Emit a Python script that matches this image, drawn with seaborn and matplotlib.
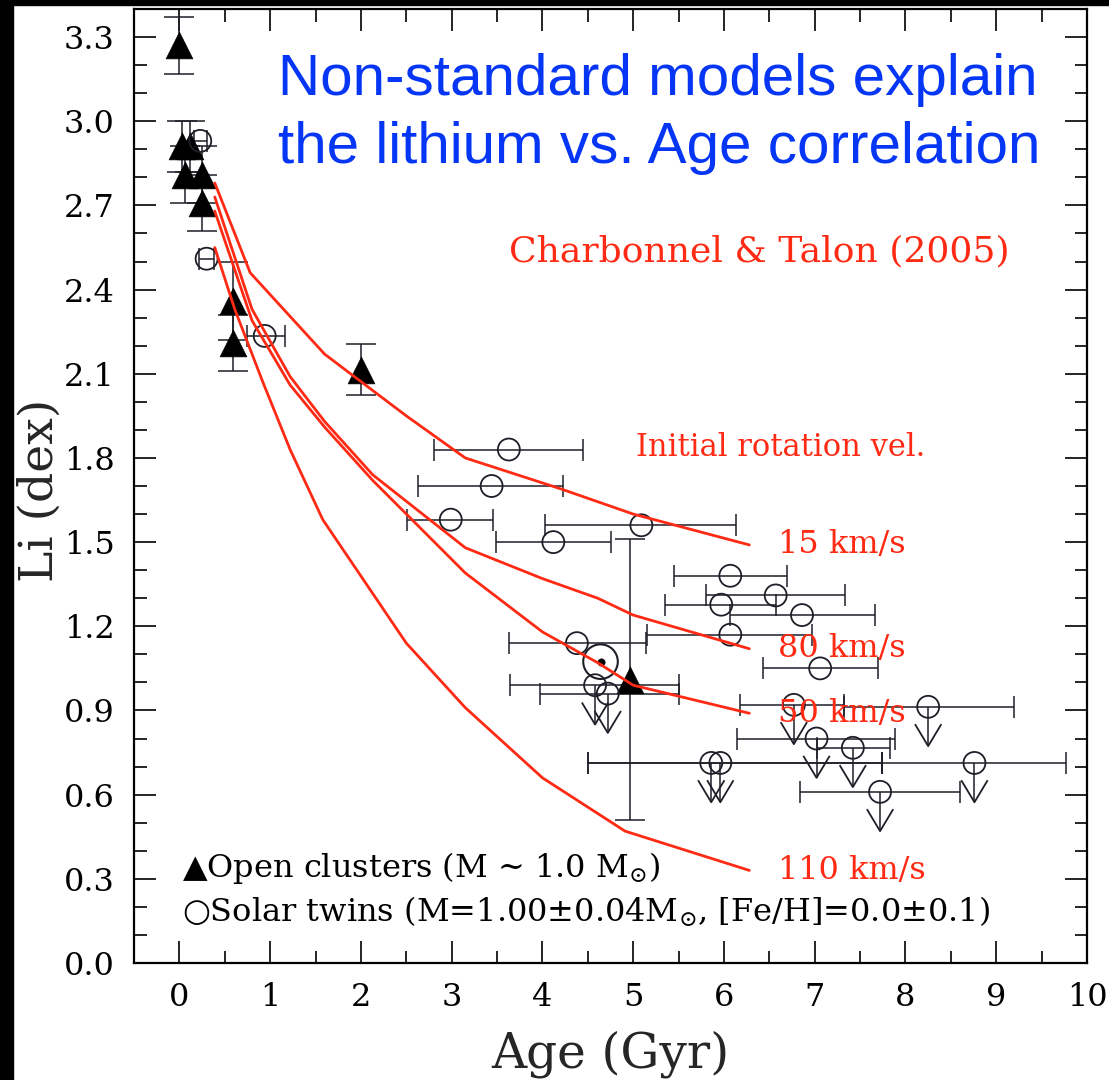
import numpy as np
import pandas as pd
import matplotlib
matplotlib.use("Agg")
import matplotlib.pyplot as plt
from matplotlib.patches import Rectangle
from matplotlib.ticker import MultipleLocator
import seaborn as sns

# ---------------- data ----------------
# Open clusters (filled triangles) with vertical error bars
oc_age = [0.00, 0.03, 0.12, 0.06, 0.25, 0.25, 0.59, 0.59, 2.00, 4.97]
oc_li = [3.27, 2.91, 2.91, 2.81, 2.81, 2.71, 2.36, 2.21, 2.115, 1.01]
oc_li_err = [0.10, 0.09, 0.09, 0.10, 0.10, 0.10, 0.14, 0.10, 0.09, 0.50]

# Solar twins, detections (open circles) with horizontal age ranges
tw_age = [0.23, 0.30, 0.94, 3.63, 3.44, 2.99, 4.12, 5.09, 6.07, 6.57, 5.97, 6.86, 6.07, 7.06, 4.38]
tw_li = [2.93, 2.51, 2.235, 1.83, 1.70, 1.58, 1.50, 1.56, 1.38, 1.31, 1.277, 1.24, 1.17, 1.05, 1.14]
tw_age_lo = [0.16, 0.22, 0.74, 2.80, 2.63, 2.51, 3.49, 4.03, 5.45, 5.80, 5.35, 6.07, 5.15, 6.43, 3.63]
tw_age_hi = [0.30, 0.38, 1.16, 4.45, 4.23, 3.46, 4.76, 6.13, 6.70, 7.33, 6.57, 7.66, 6.97, 7.70, 5.14]

# Solar twins, upper limits (open circles with downward arrows)
ul_age = [4.58, 4.72, 5.86, 5.96, 6.77, 8.25, 7.02, 7.42, 7.72, 8.76]
ul_li = [0.99, 0.96, 0.713, 0.713, 0.92, 0.913, 0.80, 0.767, 0.61, 0.713]
ul_age_lo = [3.64, 3.97, 4.50, 4.50, 6.18, 7.32, 6.14, 7.02, 6.84, 7.74]
ul_age_hi = [5.51, 5.51, 7.74, 7.74, 7.32, 9.20, 7.89, 7.83, 8.60, 9.77]

# The Sun
sun_age = [4.64]
sun_li = [1.074]

# Charbonnel & Talon (2005) models, by initial rotation velocity
model_names = ["15 km/s", "80 km/s", "50 km/s", "110 km/s"]
m15_age = [0.39, 0.78, 1.60, 2.50, 3.15, 4.20, 5.00, 6.28]
m15_li = [2.78, 2.46, 2.17, 1.95, 1.80, 1.69, 1.60, 1.49]
m80_age = [0.39, 0.80, 1.22, 1.60, 2.13, 3.15, 4.00, 4.61, 5.00, 6.28]
m80_li = [2.73, 2.33, 2.09, 1.93, 1.74, 1.48, 1.37, 1.30, 1.24, 1.12]
m50_age = [0.39, 0.80, 1.22, 1.60, 2.13, 3.15, 4.00, 4.61, 5.00, 6.28]
m50_li = [2.68, 2.29, 2.06, 1.91, 1.72, 1.39, 1.18, 1.07, 0.99, 0.89]
m110_age = [0.39, 0.61, 0.92, 1.22, 1.58, 2.50, 3.15, 4.00, 4.91, 6.28]
m110_li = [2.55, 2.33, 2.07, 1.83, 1.58, 1.14, 0.91, 0.66, 0.47, 0.33]

x_ticks = [0, 1, 2, 3, 4, 5, 6, 7, 8, 9, 10]
y_ticks = [0.0, 0.3, 0.6, 0.9, 1.2, 1.5, 1.8, 2.1, 2.4, 2.7, 3.0, 3.3]

# ---------------- style ----------------
sns.set_theme(style="ticks")
SERIF = ["DejaVu Serif", "DejaVu Sans"]
plt.rcParams["font.family"] = SERIF
plt.rcParams["mathtext.fontset"] = "dejavuserif"

RED = "#ff2a14"
BLUE = "#0536f5"
INK = "#1e1e28"

fig = plt.figure(figsize=(11.09, 10.80), dpi=100)
fig.patch.set_facecolor("white")
ax = fig.add_axes([134 / 1109, 1 - 963 / 1080, (1087 - 134) / 1109, (963 - 9) / 1080])
ax.set_facecolor("white")

# black frame bands of the screenshot (left and top)
fig.add_artist(Rectangle((0, 0), 13 / 1109, 1, transform=fig.transFigure,
                         color="black", zorder=-5))
fig.add_artist(Rectangle((0, 1 - 5 / 1080), 1, 5 / 1080, transform=fig.transFigure,
                         color="black", zorder=-5))

# ---------------- error bars ----------------
ax.errorbar(oc_age, oc_li, yerr=oc_li_err, fmt="none", ecolor=INK,
            elinewidth=1.1, capsize=11, capthick=1.1, zorder=2)

tw_xerr = [np.subtract(tw_age, tw_age_lo), np.subtract(tw_age_hi, tw_age)]
ax.errorbar(tw_age, tw_li, xerr=tw_xerr, fmt="none", ecolor=INK,
            elinewidth=1.1, capsize=8, capthick=1.1, zorder=2)

ul_xerr = [np.subtract(ul_age, ul_age_lo), np.subtract(ul_age_hi, ul_age)]
ax.errorbar(ul_age, ul_li, xerr=ul_xerr, fmt="none", ecolor=INK,
            elinewidth=1.1, capsize=8, capthick=1.1, zorder=2)

# upper-limit arrows
arrow_len = 0.14
ul_tip = np.subtract(ul_li, arrow_len)
ax.vlines(ul_age, ul_tip, ul_li, color=INK, lw=1.1, zorder=3)
v_marker = [(-0.6, 1.0), (0.0, 0.0), (0.6, 1.0)]
ax.scatter(ul_age, ul_tip, marker=v_marker, s=1000, facecolors="none",
           edgecolors=INK, linewidths=1.3, zorder=3)

# ---------------- markers ----------------
oc_df = pd.DataFrame({"age": oc_age, "li": oc_li})
sns.scatterplot(data=oc_df, x="age", y="li", marker="^", s=370, color="black",
                edgecolor="black", linewidth=0.5, ax=ax, zorder=4, legend=False)

tw_df = pd.DataFrame({"age": tw_age + ul_age, "li": tw_li + ul_li})
sns.scatterplot(data=tw_df, x="age", y="li", marker="o", s=250, facecolors="none",
                edgecolor=INK, linewidth=1.3, ax=ax, zorder=4, legend=False)

sun_df = pd.DataFrame({"age": sun_age, "li": sun_li})
sns.scatterplot(data=sun_df, x="age", y="li", marker="o", s=620, facecolors="none",
                edgecolor=INK, linewidth=1.5, ax=ax, zorder=4, legend=False)
sns.scatterplot(data=sun_df, x="age", y="li", marker="o", s=28, color="black",
                edgecolor="black", ax=ax, zorder=4, legend=False)

# ---------------- model curves ----------------
models = pd.concat([
    pd.DataFrame({"age": m15_age, "li": m15_li, "model": model_names[0]}),
    pd.DataFrame({"age": m80_age, "li": m80_li, "model": model_names[1]}),
    pd.DataFrame({"age": m50_age, "li": m50_li, "model": model_names[2]}),
    pd.DataFrame({"age": m110_age, "li": m110_li, "model": model_names[3]}),
], ignore_index=True)
sns.lineplot(data=models, x="age", y="li", hue="model", units="model",
             estimator=None, sort=False, palette={n: RED for n in model_names},
             linewidth=2.0, legend=False, ax=ax, zorder=6)

# model labels
for name, ly in zip(model_names, [m15_li[-1], m80_li[-1], m50_li[-1], m110_li[-1]]):
    ax.text(6.59, ly, name, color=RED, fontsize=23, ha="left", va="center", zorder=7)
ax.text(6.62, 1.837, "Initial rotation vel.", color=RED, fontsize=22,
        ha="center", va="center")
ax.text(6.39, 2.536, "Charbonnel & Talon (2005)", color=RED, fontsize=26,
        ha="center", va="center")

# legend-like annotation
ax.text(0.03, 0.339, "\u25b2Open clusters (M ~ 1.0 M$_{\\odot}$)", fontsize=23,
        color="black", ha="left", va="center", family=SERIF)
ax.text(0.03, 0.182, "\u25cbSolar twins (M=1.00\u00b10.04M$_{\\odot}$, [Fe/H]=0.0\u00b10.1)",
        fontsize=23, color="black", ha="left", va="center", family=SERIF)

# title text in blue
fig.text(278 / 1109, 1 - 95 / 1080, "Non-standard models explain", color=BLUE,
         fontsize=42, family="Liberation Sans", ha="left", va="baseline")
fig.text(278 / 1109, 1 - 163 / 1080, "the lithium vs. Age correlation", color=BLUE,
         fontsize=42, family="Liberation Sans", ha="left", va="baseline")

# ---------------- axes ----------------
ax.set_xlim(-0.5, 10.0)
ax.set_ylim(0.0, 3.4)
ax.set_xticks(x_ticks)
ax.set_yticks(y_ticks)
ax.set_xticklabels([str(t) for t in x_ticks])
ax.set_yticklabels([f"{t:.1f}" for t in y_ticks])
ax.xaxis.set_minor_locator(MultipleLocator(0.5))
ax.yaxis.set_minor_locator(MultipleLocator(0.1))
ax.tick_params(which="both", direction="in", top=True, right=True, colors="black",
               width=1.2)
ax.tick_params(which="major", length=16, labelsize=23, pad=14)
ax.tick_params(which="minor", length=9)
for sp in ax.spines.values():
    sp.set_color("black")
    sp.set_linewidth(1.6)
    sp.set_visible(True)

ax.set_xlabel("Age (Gyr)", fontsize=35, labelpad=12)
ax.set_ylabel("Li (dex)", fontsize=34)
ax.yaxis.set_label_coords(-0.075, 0.495)

fig.savefig("out.png", dpi=100, facecolor="white")
